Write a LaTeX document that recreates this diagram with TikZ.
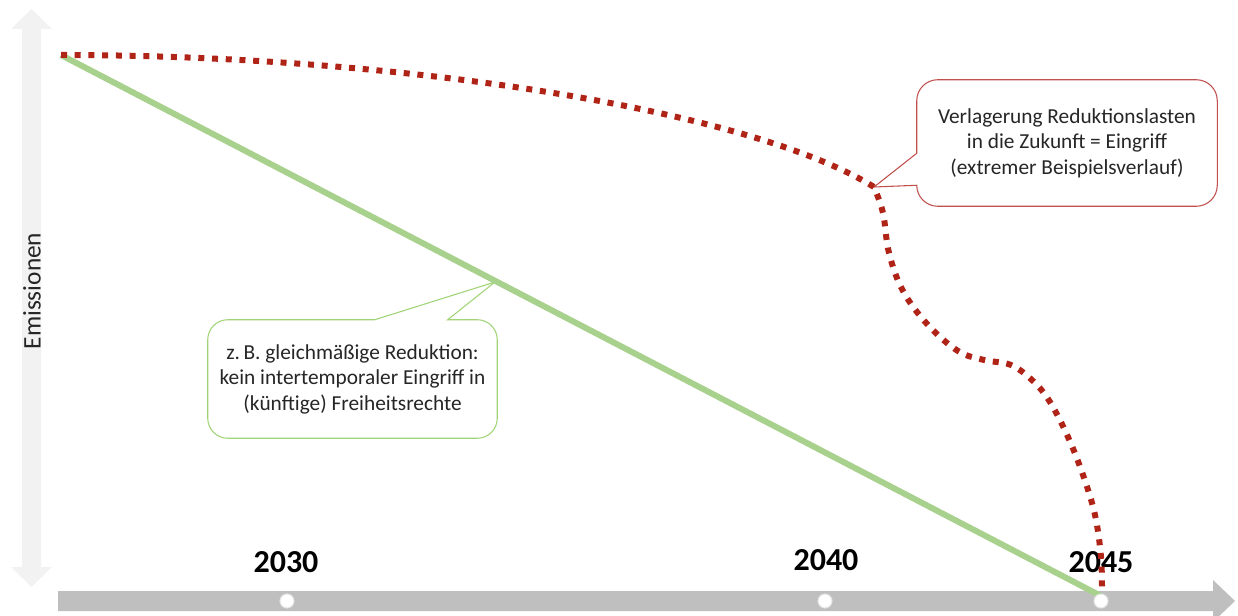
\documentclass[tikz,border=0pt]{standalone}
\usepackage{fontspec}
\setmainfont{Carlito}
\usetikzlibrary{backgrounds}
\definecolor{axisgray}{RGB}{191,191,191}
\definecolor{axislight}{RGB}{242,242,242}
\definecolor{pathgreen}{RGB}{169,209,142}
\definecolor{pathred}{RGB}{176,36,24}
\definecolor{callred}{RGB}{192,80,77}
\definecolor{callgreen}{RGB}{160,212,118}
\definecolor{txtgray}{RGB}{38,38,38}
\tikzset{
  year/.style={font=\fontsize{24}{28}\selectfont\bfseries, text=black, inner sep=0pt},
  calltext/.style={align=center, inner sep=0pt, text=txtgray, font=\fontsize{16}{19.1}\selectfont},
  yeardot/.style={circle, minimum size=10.5pt, inner sep=0pt, fill=white, draw=black!10, line width=.8pt},
  greenpath/.style={pathgreen, line width=4.5pt},
  redpath/.style={pathred, line width=4.5pt, dash pattern=on 4.5pt off 5.8pt},
  redcall/.style={draw=callred, fill=white, line width=.8pt},
  greencall/.style={draw=callgreen, fill=white, line width=.8pt}
}
\begin{document}
\begin{tikzpicture}[x=0.75pt, y=-0.75pt]
   \useasboundingbox (0,0) rectangle (1238,616);
   \clip (0,0) rectangle (1238,616);

   % axes
   \fill[axislight] (22,29) -- (11,29) -- (31.5,9) -- (52,29) -- (41,29) -- (41,567) -- (52,567) -- (31.5,587) -- (11,567) -- (22,567) -- cycle;
   \fill[axisgray] (58,591) -- (1213,591) -- (1213,580) -- (1235,601) -- (1213,622) -- (1213,611) -- (58,611) -- cycle;
   \node[rotate=90, font=\fontsize{19}{22}\selectfont, text=txtgray] (emis) at (32,291) {Emissionen};

   \node[year] (y2030) at (286,562) {2030};
   \node[year] (y2040) at (826,560) {2040};
   \node[year] (y2045) at (1101,562) {2045};

   \coordinate (start) at (61,55);
   \coordinate (end) at (1101,596);
   \coordinate (tipgreen) at (495,282);
   \coordinate (tipred) at (874,187);

   \draw[greenpath] (start) -- (end);
   \draw[redpath] (start) .. controls (400,55) and (750,110) .. (tipred)
      -- plot[smooth, tension=.6] coordinates {(874,187) (883,213) (889,253) (903,291) (928,325) (958,351) (984,360) (1011,365) (1033,381) (1050,402) (1068,437) (1083,475) (1095,515) (1101,557) (1102,594)};

   \node[yeardot] (d2030) at (287,601) {};
   \node[yeardot] (d2040) at (825,601) {};
   \node[yeardot] (d2045) at (1101,601) {};

   % callouts
   \node[calltext, minimum width=225pt, minimum height=94.5pt] (shift) at (1067,143) {Verlagerung Reduktionslasten\\in die Zukunft = Eingriff\\(extremer Beispielsverlauf)};
   \node[calltext, minimum width=216.75pt, minimum height=88.5pt] (even) at (352.5,379) {z.\,B. gleichmäßige Reduktion:\\kein intertemporaler Eingriff in\\(künftige) Freiheitsrechte};
   \begin{scope}[on background layer]
   \path[redcall] (shift.north) [rounded corners=15.75pt] -- (shift.north east) -- (shift.south east) -- (shift.south west) [sharp corners] -- ([yshift=15.75pt]shift.south west) -- (tipred) -- ([yshift=39.75pt]shift.south west) [rounded corners=15.75pt] -- (shift.north west) -- cycle;
   \path[greencall] (even.south) [rounded corners=15pt] -- (even.south west) -- (even.north west) [sharp corners] -- ([xshift=125.25pt]even.north west) -- (tipgreen) -- ([xshift=180pt]even.north west) [rounded corners=15pt] -- (even.north east) -- (even.south east) -- cycle;
   \end{scope}
\end{tikzpicture}
\end{document}
